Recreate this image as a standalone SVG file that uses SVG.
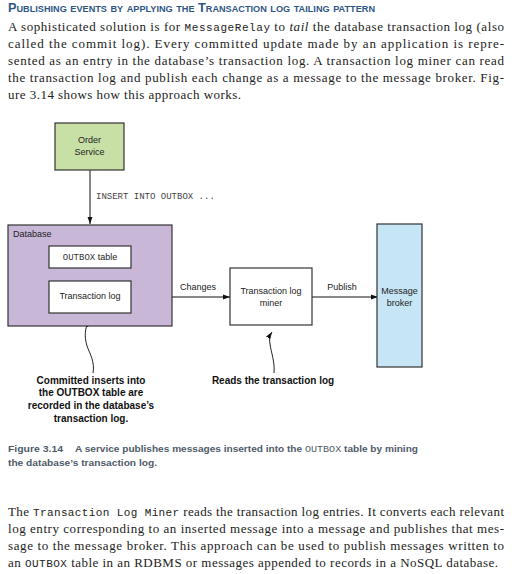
<svg xmlns="http://www.w3.org/2000/svg" width="512" height="574" viewBox="0 0 512 574">
<style>
.head{font-family:"Liberation Sans",Arial,sans-serif;font-weight:bold;font-variant:small-caps;font-size:12.5px;fill:#2e5685}
.body{font-family:"Liberation Serif","Times New Roman",serif;font-size:13px;fill:#222}
.mono{font-family:"Liberation Mono","Courier New",monospace;font-size:11px}
.lbl{font-family:"Liberation Sans",Arial,sans-serif;font-size:9px;fill:#222}
.code{font-family:"Liberation Mono","Courier New",monospace;font-size:9px;fill:#444}
.note{font-family:"Liberation Sans",Arial,sans-serif;font-size:10px;font-weight:bold;fill:#111}
.cap{font-family:"Liberation Sans",Arial,sans-serif;font-size:9.4px;font-weight:bold;fill:#4f5a68}
.capm{font-family:"Liberation Mono","Courier New",monospace;font-weight:normal}
.box{stroke:#333;stroke-width:1.2}
.edge{stroke:#111;stroke-width:1;fill:none}
.ptr{stroke:#222;stroke-width:1;fill:none}
</style>
<defs>
<marker id="ah" viewBox="0 0 10 10" refX="10" refY="5" markerWidth="7" markerHeight="7" markerUnits="userSpaceOnUse" orient="auto">
<path d="M0,1.5 L10,5 L0,8.5 z" fill="#111"/>
</marker>
</defs>
<rect width="512" height="574" fill="#fff"/>

<text class="head" x="8" y="12" textLength="367" lengthAdjust="spacingAndGlyphs">Publishing events by applying the Transaction log tailing pattern</text>
<text class="body" x="8" y="31" textLength="496" lengthAdjust="spacing">A sophisticated solution is for <tspan class="mono">MessageRelay</tspan> to <tspan font-style="italic">tail</tspan> the database transaction log (also</text>
<text class="body" x="8" y="48" textLength="496" lengthAdjust="spacing">called the commit log). Every committed update made by an application is repre-</text>
<text class="body" x="8" y="65" textLength="496" lengthAdjust="spacing">sented as an entry in the database’s transaction log. A transaction log miner can read</text>
<text class="body" x="8" y="82" textLength="496" lengthAdjust="spacing">the transaction log and publish each change as a message to the message broker. Fig-</text>
<text class="body" x="8" y="99" textLength="233" lengthAdjust="spacing">ure 3.14 shows how this approach works.</text>

<g id="connectors">
<line class="edge" x1="90" y1="170" x2="90" y2="224" marker-end="url(#ah)"/>
<text class="code" x="96" y="199">INSERT INTO OUTBOX ...</text>
<line class="edge" x1="131" y1="297" x2="230" y2="297" marker-end="url(#ah)"/>
<text class="lbl" x="180" y="290">Changes</text>
<line class="edge" x1="312" y1="297" x2="378" y2="297" marker-end="url(#ah)"/>
<text class="lbl" x="342" y="290" text-anchor="middle">Publish</text>
<path class="ptr" d="M93,373 C95,362 90,354 87,346 C84,336 85,328 89,320" marker-end="url(#ah)"/>
<path class="ptr" d="M274,373 C275,362 271,352 270,344 C269,338 270,335 272,332" marker-end="url(#ah)"/>
</g>

<g id="order-service">
<rect class="box" x="55" y="123" width="69" height="47" fill="#c8e0a6"/>
<text class="lbl" x="89.5" y="143" text-anchor="middle">Order</text>
<text class="lbl" x="89.5" y="155" text-anchor="middle">Service</text>
</g>

<g id="database">
<rect class="box" x="8" y="225" width="164" height="101" fill="#c9b7d8"/>
<text class="lbl" x="13" y="237">Database</text>
</g>

<g id="outbox-table">
<rect class="box" x="49" y="246" width="82" height="22" fill="#fff"/>
<text class="lbl" x="90" y="260" text-anchor="middle"><tspan class="code" style="fill:#333">OUTBOX</tspan> table</text>
</g>

<g id="transaction-log">
<rect class="box" x="49" y="281" width="82" height="32" fill="#fff"/>
<text class="lbl" x="90" y="299" text-anchor="middle">Transaction log</text>
</g>

<g id="miner">
<rect class="box" x="230" y="268" width="82" height="57" fill="#fff"/>
<text class="lbl" x="271" y="294" text-anchor="middle">Transaction log</text>
<text class="lbl" x="271" y="306" text-anchor="middle">miner</text>
</g>

<g id="message-broker">
<rect class="box" x="377" y="224" width="45" height="143" fill="#c6e6f6"/>
<text class="lbl" x="399.5" y="294" text-anchor="middle">Message</text>
<text class="lbl" x="399.5" y="306" text-anchor="middle">broker</text>
</g>

<g id="note-committed">
<text class="note" x="91" y="384" text-anchor="middle">Committed inserts into</text>
<text class="note" x="91" y="396" text-anchor="middle">the OUTBOX table are</text>
<text class="note" x="91" y="409" text-anchor="middle">recorded in the database’s</text>
<text class="note" x="91" y="422" text-anchor="middle">transaction log.</text>
</g>

<g id="note-reads">
<text class="note" x="273" y="384" text-anchor="middle">Reads the transaction log</text>
</g>

<text class="cap" x="8" y="452" textLength="55" lengthAdjust="spacingAndGlyphs">Figure 3.14</text>
<text class="cap" x="75" y="452" textLength="343" lengthAdjust="spacingAndGlyphs">A service publishes messages inserted into the <tspan class="capm">OUTBOX</tspan> table by mining</text>
<text class="cap" x="8" y="466" textLength="149" lengthAdjust="spacingAndGlyphs">the database’s transaction log.</text>

<text class="body" x="8" y="516" textLength="496" lengthAdjust="spacing">The <tspan class="mono">Transaction Log Miner</tspan> reads the transaction log entries. It converts each relevant</text>
<text class="body" x="8" y="533" textLength="496" lengthAdjust="spacing">log entry corresponding to an inserted message into a message and publishes that mes-</text>
<text class="body" x="8" y="550" textLength="496" lengthAdjust="spacing">sage to the message broker. This approach can be used to publish messages written to</text>
<text class="body" x="8" y="567" textLength="490" lengthAdjust="spacing">an <tspan class="mono">OUTBOX</tspan> table in an RDBMS or messages appended to records in a NoSQL database.</text>
</svg>
